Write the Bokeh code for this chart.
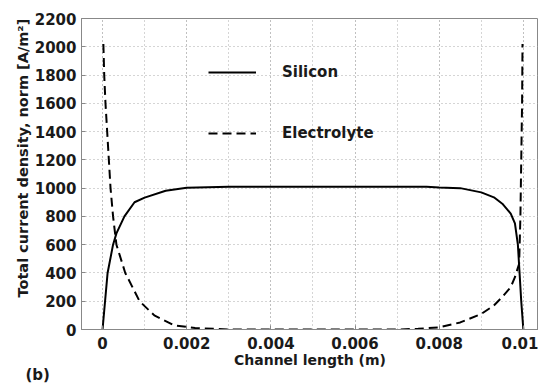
from bokeh.plotting import figure
from bokeh.models import Range1d, SingleIntervalTicker, Legend, LegendItem, Title
from bokeh.embed import file_html
from bokeh.resources import INLINE

# Silicon (solid)
si_x = [0, 0.00006, 0.00012, 0.00025, 0.00033, 0.00052, 0.00076, 0.001, 0.0015, 0.002,
        0.003, 0.005, 0.007, 0.0077, 0.008, 0.0085, 0.009, 0.0093, 0.0095, 0.0097,
        0.0098, 0.00987, 0.00991, 0.00995, 0.01]
si_y = [0, 200, 400, 600, 680, 800, 900, 933, 982, 1003,
        1010, 1010, 1010, 1009, 1005, 1000, 970, 935, 890, 820,
        750, 600, 400, 200, 0]

# Electrolyte (dashed)
el_x = [0.00002, 0.00004, 0.00007, 0.00011, 0.00015, 0.00019, 0.00025, 0.00033, 0.00054,
        0.00088, 0.00123, 0.0017, 0.0022, 0.003, 0.005, 0.007, 0.0075, 0.008, 0.0085,
        0.009, 0.0093, 0.0095, 0.0097, 0.0098, 0.0099, 0.00993, 0.00995, 0.00997, 0.00998]
el_y = [2020, 1800, 1600, 1400, 1200, 1000, 800, 600, 400,
        200, 100, 30, 10, 0, 0, 0, 5, 15, 50,
        110, 170, 230, 300, 370, 465, 800, 1200, 1600, 2020]

series_names = ["Silicon", "Electrolyte"]
x_tick_labels = ["0", "0.002", "0.004", "0.006", "0.008", "0.01"]
x_label = "Channel length (m)"
y_label = "Total current density, norm [A/m\u00b2]"
panel_tag = "(b)"

FONT = "DejaVu Sans"
TXT = "#1a1a1a"

p = figure(width=538, height=383, output_backend="svg", toolbar_location=None,
           x_range=Range1d(-0.0005, 0.01036), y_range=Range1d(0, 2200),
           min_border_left=81, min_border_right=0, min_border_top=18, min_border_bottom=54)
p.background_fill_color = "white"
p.border_fill_color = "white"
p.outline_line_color = "#888888"

p.xaxis.ticker = SingleIntervalTicker(interval=0.002, num_minor_ticks=2)
p.yaxis.ticker = SingleIntervalTicker(interval=200, num_minor_ticks=0)
p.xaxis.major_label_overrides = {0.002 * i: lab for i, lab in enumerate(x_tick_labels)}

for ax in (p.xaxis, p.yaxis):
    ax.axis_line_color = "#888888"
    ax.major_tick_line_color = "#888888"
    ax.minor_tick_line_color = None
    ax.major_tick_out = 0
    ax.major_tick_in = 4
    ax.major_label_text_font = FONT
    ax.major_label_text_font_style = "bold"
    ax.major_label_text_font_size = "15px"
    ax.major_label_text_color = TXT
    ax.axis_label_text_font = FONT
    ax.axis_label_text_font_style = "bold"
    ax.axis_label_text_font_size = "14px"
    ax.axis_label_text_color = TXT

p.xaxis.axis_label = x_label
p.xaxis.major_label_standoff = 3
p.yaxis.major_label_standoff = 5
p.xaxis.axis_label_standoff = 0

for g in (p.xgrid, p.ygrid):
    g.grid_line_color = "#aaaaaa"
    g.grid_line_dash = "1 3"
    g.grid_line_width = 1
p.xgrid.minor_grid_line_color = "#aaaaaa"
p.xgrid.minor_grid_line_dash = "1 3"

r1 = p.line(si_x, si_y, line_color="black", line_width=2)
r2 = p.line(el_x, el_y, line_color="black", line_width=2, line_dash="9 5")

legend = Legend(items=[LegendItem(label=series_names[0], renderers=[r1]),
                       LegendItem(label=series_names[1], renderers=[r2])],
                location=(127, 186), padding=0, margin=0, spacing=41,
                glyph_width=48, glyph_height=20, label_height=20, label_standoff=26,
                border_line_alpha=0, background_fill_alpha=0,
                label_text_font=FONT, label_text_font_style="bold",
                label_text_font_size="15px", label_text_color=TXT)
p.add_layout(legend)

# y-axis title as a vertical title on the left, starting 32px above the frame bottom
p.add_layout(Title(text=y_label, align="left", offset=32, standoff=2,
                   text_font=FONT, text_font_style="bold", text_font_size="14.5px",
                   text_color=TXT), "left")

# panel tag "(b)" at the lower left
p.add_layout(Title(text=panel_tag, align="left", offset=-56, standoff=-9,
                   vertical_align="top",
                   text_font=FONT, text_font_style="bold", text_font_size="15px",
                   text_color=TXT), "below")

open("out.html", "w").write(file_html(p, INLINE))
